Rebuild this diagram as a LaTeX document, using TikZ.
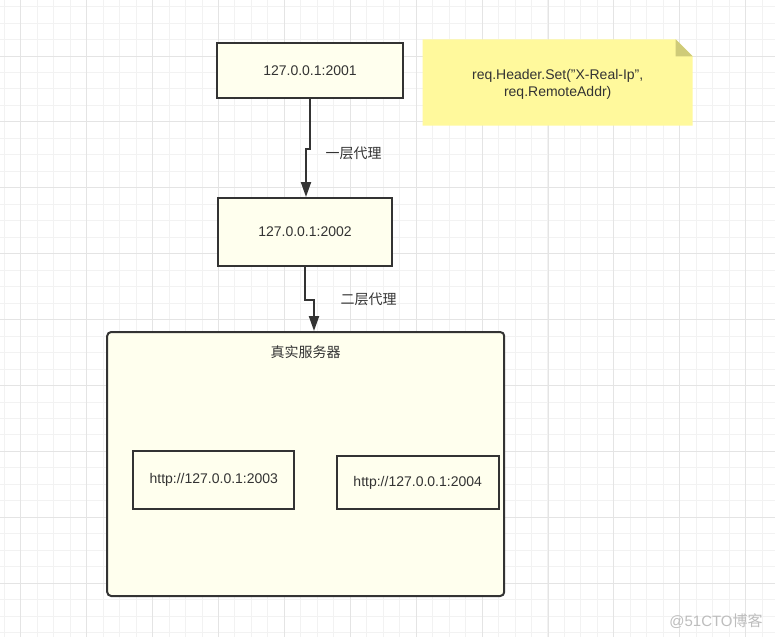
\documentclass[tikz,border=0pt]{standalone}
\usepackage{fontspec}
\setmainfont{Liberation Sans}
\newfontfamily\cjk{Noto Sans CJK SC}
\usetikzlibrary{arrows.meta}
\definecolor{gridminor}{HTML}{F2F2F2}
\definecolor{gridmajor}{HTML}{E4E4E4}
\definecolor{boxfill}{HTML}{FFFFEE}
\definecolor{boxline}{HTML}{333333}
\definecolor{txt}{HTML}{333333}
\definecolor{notefill}{HTML}{FFF99C}
\definecolor{notefold}{HTML}{CFCB78}
\definecolor{wm}{HTML}{BDBDBD}
\tikzset{
  boxstyle/.style={draw=boxline, fill=boxfill, line width=2pt, rectangle, inner sep=0pt, text=txt,
    font=\fontsize{14}{17}\selectfont},
  lbl/.style={text=txt, inner sep=0pt, font=\fontsize{14}{17}\selectfont\cjk},
  conn/.style={draw=boxline, line width=2pt, -{Triangle[length=15pt,width=10pt]}},
}
\begin{document}
\begin{tikzpicture}[x=1pt,y=-1pt]
\useasboundingbox (0,0) rectangle (775,637);
\fill[white] (0,0) rectangle (775,637);
% grid
\foreach \i in {0,...,47} {
  \draw[gridminor, line width=1pt] ({4.3+16.475*\i},0) -- ({4.3+16.475*\i},637);
}
\foreach \i in {0,...,38} {
  \draw[gridminor, line width=1pt] (0,{6.6+16.475*\i}) -- (775,{6.6+16.475*\i});
}
\foreach \i in {0,...,11} {
  \draw[gridmajor, line width=1pt] ({20.8+65.9*\i},0) -- ({20.8+65.9*\i},637);
}
\foreach \i in {0,...,10} {
  \draw[gridmajor, line width=1pt] (0,{-9.9+65.9*\i}) -- (775,{-9.9+65.9*\i});
}
% note
\fill[notefill] (422.7,39.3) -- (675.7,39.3) -- (692.7,56.3) -- (692.7,125.7) -- (422.7,125.7) -- cycle;
\fill[notefold] (675.7,39.3) -- (692.7,56.3) -- (675.7,56.3) -- cycle;
\node[text=txt, inner sep=0pt, align=center, font=\fontsize{14}{17}\selectfont] (note) at (557.7,84.2)
  {req.Header.Set("X-Real-Ip",\\req.RemoteAddr)};
% boxes
\node[boxstyle, minimum width=186pt, minimum height=55pt] (b1) at (310,70.5) {127.0.0.1:2001};
\node[boxstyle, minimum width=174pt, minimum height=68pt] (b2) at (305,232) {127.0.0.1:2002};
\node[boxstyle, rounded corners=4pt, minimum width=397pt, minimum height=264pt] (cont) at (305.7,464) {};
\node[lbl] (title) at (305.7,352) {真实服务器};
\node[boxstyle, minimum width=161pt, minimum height=58pt] (b3) at (213.8,480) {http://127.0.0.1:2003};
\node[boxstyle, minimum width=162pt, minimum height=53pt] (b4) at (417.7,482.4) {http://127.0.0.1:2004};
% connectors
\draw[conn] (b1.south) -- ++(0,50) -| ([xshift=1pt]b2.north);
\node[lbl] (l1) at (353.5,153) {一层代理};
\draw[conn] (b2.south) -- ++(0,33) -| ([xshift=8.3pt]cont.north);
\node[lbl] (l2) at (368.5,299) {二层代理};
% watermark
\node[text=wm, inner sep=0pt, font=\fontsize{15}{18}\selectfont] (wmk) at (716,621) {@51CTO{\cjk 博客}};
\end{tikzpicture}
\end{document}
